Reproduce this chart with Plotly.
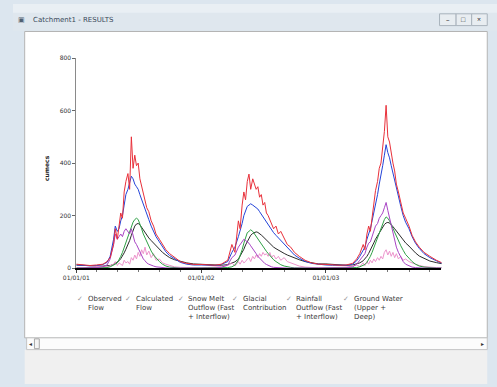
import plotly.graph_objects as go

# ---------------- data ----------------
years = [2001, 2002, 2003]
month_days = ["01-01", "01-20", "02-10", "03-01", "03-20", "04-01", "04-10", "04-20", "04-25",
              "05-01", "05-06", "05-11", "05-16", "05-21", "05-26", "06-01", "06-06", "06-11",
              "06-16", "06-21", "06-26", "07-01", "07-06", "07-11", "07-16", "07-21", "07-26",
              "08-01", "08-08", "08-15", "08-22", "09-01", "09-10", "09-20", "10-01", "10-15",
              "11-01", "11-20", "12-10"]
dates = [f"{y}-{md}" for y in years for md in month_days]

observed_flow = [
    15, 12, 10, 12, 15, 25, 40, 90, 150, 110, 170, 210, 190, 290, 330, 360, 300, 500, 380, 430,
    390, 400, 340, 310, 280, 260, 230, 215, 180, 160, 130, 110, 90, 70, 55, 40, 25, 18, 14,
    14, 12, 11, 15, 30, 90, 60, 180, 150, 240, 290, 260, 330, 358, 300, 340, 320, 300, 310, 270,
    280, 240, 250, 210, 200, 185, 175, 150, 160, 130, 140, 110, 90, 80, 60, 45, 30, 20, 15,
    14, 12, 11, 12, 18, 35, 55, 90, 70, 130, 160, 140, 200, 250, 295, 330, 380, 400, 460, 520,
    620, 500, 480, 430, 400, 370, 320, 290, 250, 210, 190, 160, 125, 100, 80, 60, 45, 30, 18]
calculated_flow = [
    12, 10, 9, 10, 14, 22, 45, 110, 160, 140, 150, 180, 200, 240, 280, 300, 330, 350, 340, 320,
    310, 300, 280, 260, 240, 220, 200, 185, 160, 140, 120, 100, 80, 62, 48, 35, 22, 15, 12,
    12, 11, 10, 14, 25, 60, 80, 120, 140, 170, 200, 220, 235, 240, 245, 240, 235, 230, 225, 215,
    205, 195, 185, 175, 165, 155, 145, 135, 125, 115, 105, 95, 80, 65, 50, 38, 26, 18, 14,
    12, 11, 10, 11, 15, 28, 45, 70, 80, 110, 130, 150, 180, 210, 250, 280, 320, 350, 390, 430,
    470, 440, 420, 390, 360, 330, 300, 270, 235, 200, 175, 150, 120, 95, 75, 55, 40, 28, 16]
snow_melt = [
    0, 0, 0, 2, 5, 12, 35, 90, 130, 110, 120, 130, 120, 140, 150, 140, 130, 150, 120, 100,
    90, 75, 60, 45, 35, 28, 20, 15, 10, 8, 5, 3, 2, 1, 0, 0, 0, 0, 0,
    0, 0, 0, 3, 12, 40, 50, 80, 90, 100, 110, 105, 100, 95, 85, 75, 65, 55, 45, 38,
    30, 24, 18, 14, 10, 7, 5, 3, 2, 1, 0, 0, 0, 0, 0, 0, 0, 0, 0,
    0, 0, 0, 1, 5, 15, 30, 50, 55, 80, 95, 100, 120, 140, 160, 170, 190, 200, 210, 230,
    250, 220, 190, 160, 130, 100, 80, 60, 40, 25, 15, 8, 4, 2, 0, 0, 0, 0, 0]
glacial = [
    0, 0, 0, 0, 0, 2, 5, 10, 15, 20, 30, 45, 60, 80, 100, 120, 140, 160, 175, 185,
    190, 185, 170, 150, 130, 115, 100, 85, 65, 50, 38, 25, 15, 8, 4, 2, 0, 0, 0,
    0, 0, 0, 0, 2, 5, 12, 30, 45, 70, 95, 115, 135, 140, 146, 140, 130, 120, 110, 100,
    90, 80, 72, 64, 56, 48, 40, 32, 25, 18, 13, 8, 5, 3, 1, 0, 0, 0, 0,
    0, 0, 0, 0, 0, 2, 5, 10, 14, 22, 32, 45, 60, 78, 98, 118, 138, 155, 170, 185,
    195, 190, 180, 165, 150, 135, 120, 105, 85, 68, 52, 38, 25, 15, 8, 4, 1, 0, 0]
rainfall = [
    2, 0, 3, 5, 8, 4, 10, 15, 25, 10, 20, 15, 10, 30, 20, 25, 15, 40, 30, 50,
    35, 60, 45, 70, 55, 80, 50, 65, 40, 55, 30, 35, 20, 15, 10, 5, 3, 2, 1,
    1, 2, 3, 6, 10, 20, 8, 25, 15, 30, 20, 25, 35, 40, 25, 45, 35, 50, 40, 55,
    45, 60, 50, 55, 45, 60, 40, 50, 35, 45, 30, 40, 25, 20, 12, 8, 4, 2, 1,
    1, 2, 2, 4, 8, 12, 6, 20, 10, 25, 15, 30, 20, 35, 25, 40, 30, 45, 35, 60,
    70, 50, 65, 45, 60, 40, 55, 35, 45, 30, 35, 25, 20, 15, 10, 6, 3, 2, 1]
ground_water = [
    12, 10, 9, 8, 8, 9, 10, 14, 18, 22, 28, 36, 45, 58, 72, 88, 105, 125, 145, 160,
    168, 170, 165, 155, 145, 135, 125, 115, 105, 95, 85, 72, 60, 50, 40, 32, 25, 20, 16,
    14, 12, 11, 11, 13, 18, 24, 34, 45, 58, 72, 88, 102, 115, 125, 132, 136, 138, 136, 132,
    126, 120, 113, 106, 99, 92, 86, 80, 74, 68, 62, 56, 50, 44, 38, 32, 25, 20, 16,
    16, 14, 12, 11, 12, 15, 20, 28, 35, 45, 56, 68, 82, 96, 110, 124, 136, 148, 158, 166,
    172, 174, 172, 166, 158, 150, 141, 132, 120, 108, 96, 84, 70, 58, 46, 36, 27, 21, 16]

series_names = ["Observed Flow", "Calculated Flow", "Snow Melt Outflow (Fast + Interflow)",
                "Glacial Contribution", "Rainfall Outflow (Fast + Interflow)",
                "Ground Water (Upper + Deep)"]
legend_lines = [["Observed", "Flow"], ["Calculated", "Flow"],
                ["Snow Melt", "Outflow (Fast", "+ Interflow)"], ["Glacial", "Contribution"],
                ["Rainfall", "Outflow (Fast", "+ Interflow)"], ["Ground Water", "(Upper +", "Deep)"]]
series_values = [observed_flow, calculated_flow, snow_melt, glacial, rainfall, ground_water]
series_colors = ["#e8303a", "#2444d8", "#a844c4", "#2fa045", "#ec94cc", "#2a2a2a"]

y_ticks = [0, 200, 400, 600, 800]
x_tick_dates = ["2001-01-01", "2002-01-01", "2003-01-01"]
x_tick_text = ["01/01/01", "01/01/02", "01/01/03"]
y_title = "cumecs"
window_title = "Catchment1 - RESULTS"

# ---------------- layout helpers ----------------
W, H = 497, 387
def fx(px): return px / W
def fy(py): return 1 - py / H

fig = go.Figure()
draw_order = [5, 4, 3, 2, 1, 0]
for i in draw_order:
    fig.add_trace(go.Scatter(x=dates, y=series_values[i], mode="lines", name=series_names[i],
                             line=dict(color=series_colors[i], width=1), showlegend=False,
                             hoverinfo="skip"))

shapes = []
def rect(x0, y0, x1, y1, fill, line=None, lw=1):
    shapes.append(dict(type="rect", xref="paper", yref="paper", x0=fx(x0), x1=fx(x1),
                       y0=fy(y1), y1=fy(y0), fillcolor=fill, layer="below",
                       line=dict(color=line if line else fill, width=lw if line else 0)))

rect(0, 0, 497, 27, "#dfe7ee")
rect(0, 0, 497, 9, "#e9eff4")
rect(12, 352, 487, 387, "#f0f0f0")
rect(12, 28, 487, 340, "#ffffff", "#b4b4b4")
rect(14, 340, 487, 352, "#fcfcfc", "#c4c4c4")
rect(22, 341, 27, 351, "#f4f4f4", "#a8a8a8")
rect(438, 10, 455, 22, "#e8edf1", "#a9b3bc")
rect(455, 10, 471, 22, "#e8edf1", "#a9b3bc")
rect(471, 10, 487, 22, "#e8edf1", "#a9b3bc")

annotations = [
    dict(text=window_title, x=fx(18), y=fy(16), xanchor="left", yanchor="middle",
         font=dict(size=7, color="#3a4a5a", family="DejaVu Sans")),
    dict(text="▣", x=fx(9), y=fy(16), xanchor="center", yanchor="middle",
         font=dict(size=7, color="#506070")),
    dict(text="–", x=fx(446.5), y=fy(16), font=dict(size=7, color="#333")),
    dict(text="□", x=fx(463), y=fy(16), font=dict(size=7, color="#333")),
    dict(text="×", x=fx(479), y=fy(16), font=dict(size=7, color="#333")),
    dict(text="◂", x=fx(18), y=fy(346), font=dict(size=6, color="#333")),
    dict(text="▸", x=fx(482), y=fy(346), font=dict(size=6, color="#333")),
    dict(text=f"<b>{y_title}</b>", x=fx(35), y=fy(167), textangle=-90,
         font=dict(size=6, color="#222", family="DejaVu Sans")),
]
for a in annotations:
    a.setdefault("xref", "paper"); a.setdefault("yref", "paper"); a["showarrow"] = False
    a.setdefault("xanchor", "center"); a.setdefault("yanchor", "middle")

legend_x = [69, 118, 172, 228, 283, 342]
for k, lines in enumerate(legend_lines):
    annotations.append(dict(text="✓", x=fx(legend_x[k]), y=fy(300), xref="paper", yref="paper",
                            showarrow=False, xanchor="center", yanchor="middle",
                            font=dict(size=7, color="#9a9a9a")))
    annotations.append(dict(text="<br>".join(lines), x=fx(legend_x[k] + 6), y=fy(294),
                            xref="paper", yref="paper", showarrow=False, xanchor="left",
                            yanchor="top", align="left",
                            font=dict(size=7, color="#3a3a3a", family="DejaVu Sans")))

fig.update_layout(
    width=W, height=H, margin=dict(l=0, r=0, t=0, b=0),
    paper_bgcolor="#dce6ef", plot_bgcolor="#ffffff",
    shapes=shapes, annotations=annotations, showlegend=False, hovermode=False,
    xaxis=dict(domain=[fx(65), fx(440)], type="date", range=["2001-01-01", "2003-12-05"],
               tickvals=x_tick_dates, ticktext=x_tick_text, showgrid=False, zeroline=False,
               showline=True, linecolor="#000000", linewidth=2, ticks="outside", ticklen=3,
               tickcolor="#444", tickfont=dict(size=6, color="#333", family="DejaVu Sans"),
               minor=dict(ticks="outside", ticklen=2, dtick="M2", tickcolor="#777")),
    yaxis=dict(domain=[fy(269), fy(55)], range=[0, 800], tickvals=y_ticks, showgrid=False,
               zeroline=False, showline=True, linecolor="#8a8a8a", linewidth=1,
               ticks="outside", ticklen=3, tickcolor="#666",
               tickfont=dict(size=6, color="#333", family="DejaVu Sans")),
)

fig.write_html("out.html", config={"displayModeBar": False},
               post_script="document.body.style.margin='0';document.body.style.overflow='hidden';")
